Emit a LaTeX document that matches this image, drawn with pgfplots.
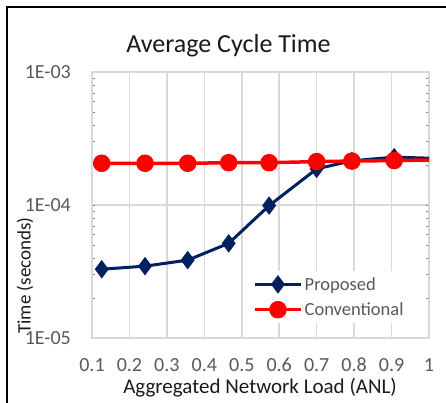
\documentclass[border=0pt]{standalone}
\usepackage{pgfplots}
\pgfplotsset{compat=1.18}
\usepackage{fontspec}
\setmainfont{Carlito}
\definecolor{navy}{HTML}{002060}
\definecolor{tickgray}{HTML}{595959}
\definecolor{gridgray}{HTML}{D9D9D9}
\definecolor{titlegray}{HTML}{1A1A1A}
\begin{document}
\begin{tikzpicture}[x=1pt,y=1pt]
\useasboundingbox (0,0) rectangle (446,402);
\draw[line width=2pt] (7,-5) -- (7,395) -- (460,395);
\node[font=\fontsize{26}{26}\selectfont, text=titlegray] at (228.5,356) {Average Cycle Time};
\node[font=\fontsize{21}{21}\selectfont, text=titlegray] at (260,14) {Aggregated Network Load (ANL)};
\node[font=\fontsize{19}{19}\selectfont, text=titlegray, rotate=90] at (25,126.5) {Time (seconds)};
\begin{axis}[at={(92pt,64pt)}, anchor=south west, scale only axis,
  width=337pt, height=266pt,
  ymode=log, xmin=0.1, xmax=1, ymin=1e-5, ymax=1e-3,
  xtick={0.1,0.2,0.3,0.4,0.5,0.6,0.7,0.8,0.9,1.0},
  xticklabels={0.1,0.2,0.3,0.4,0.5,0.6,0.7,0.8,0.9,1},
  ytick={1e-5,1e-4,1e-3},
  yticklabels={1E-05,1E-04,1E-03},
  grid=major,
  major grid style={gridgray, line width=1.5pt},
  axis line style={gridgray, line width=1.5pt},
  major tick length=0pt,
  tick label style={text=tickgray, font=\fontsize{20}{20}\selectfont, inner sep=0pt},
  xticklabel style={yshift=-20pt},
  yticklabel style={xshift=-21pt},
  clip=true,
  legend style={at={(0.454,0.252)}, anchor=north west, draw=none, fill=white,
    font=\fontsize{18.5}{18.5}\selectfont, text=tickgray,
    inner xsep=8pt, inner ysep=4pt, row sep=7pt,
    legend cell align=left},
  legend image code/.code={
    \draw[#1, mark repeat=2, mark phase=2] plot coordinates {(0pt,0pt) (23pt,0pt) (46pt,0pt)};
  },
]
\addplot[navy, line width=3pt, mark=diamond*, mark size=6.8pt, mark options={solid}]
 coordinates {(0.126,3.29e-5)(0.2416,3.47e-5)(0.3556,3.85e-5)(0.465,5.15e-5)(0.573,9.9e-5)(0.700,1.87e-4)(0.794,2.15e-4)(0.907,2.29e-4)(1.05,2.23e-4)};
\addlegendentry{Proposed}
\addplot[red, line width=3.5pt, mark=*, mark size=7pt, mark options={solid}]
 coordinates {(0.126,2.06e-4)(0.2416,2.06e-4)(0.3556,2.06e-4)(0.465,2.08e-4)(0.573,2.08e-4)(0.700,2.12e-4)(0.794,2.14e-4)(0.907,2.16e-4)(1.05,2.19e-4)};
\addlegendentry{Conventional}
\end{axis}
\end{tikzpicture}
\end{document}
